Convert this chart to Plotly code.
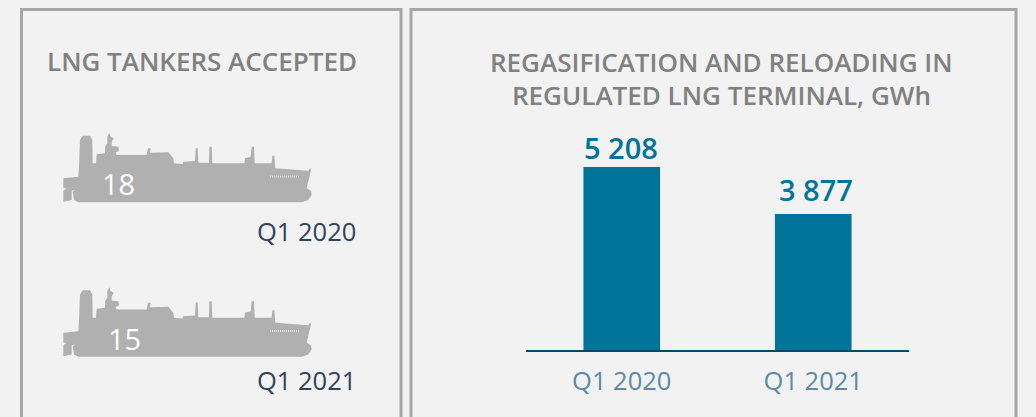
import plotly.graph_objects as go

W, H = 1036, 417
categories = ["Q1 2020", "Q1 2021"]
gwh_values = [5208, 3877]
gwh_labels = ["5 208", "3 877"]
tanker_counts = [18, 15]

BG = "#f2f2f2"
FONT = "Open Sans"

def px(x): return x / W
def py(y): return 1 - y / H

# Decorative ship silhouette, traced in 3x zoom units
SHIP = [(190,245),(190,212),(200,205),(190,205),(190,175),(235,170),(237,140),(240,60),(248,47),(270,47),
(277,60),(278,130),(288,130),(290,103),(315,100),(315,80),(322,70),(322,50),(328,38),(332,50),(342,55),
(335,65),(335,78),(355,80),(357,92),(347,98),(350,105),(440,105),(444,85),(452,85),(450,98),(505,97),
(520,115),(522,130),(548,132),(550,125),(585,123),(587,85),(593,83),(595,128),(627,128),(628,80),(635,80),
(637,130),(733,130),(735,115),(752,110),(755,80),(762,80),(764,130),(815,130),(817,107),(823,107),(826,145),
(925,152),(930,143),(933,150),(920,205),(933,212),(935,225),(925,240),(905,247),(235,247),(222,240),
(218,215),(225,210),(215,212),(215,240)]

def ship_path(dy):
    pts = [(px(x/3), py(y/3 + 120 + dy)) for x, y in SHIP]
    return "M " + " L ".join(f"{a:.5f},{b:.5f}" for a, b in pts) + " Z"

fig = go.Figure(go.Bar(
    x=categories, y=gwh_values, width=0.4, marker_color="#007398", marker_line_width=0,
    hoverinfo="skip",
))

shapes = []
for x0, x1 in [(21.5, 401), (411, 1016)]:
    shapes.append(dict(type="rect", xref="paper", yref="paper", x0=px(x0), x1=px(x1), y0=py(9.5), y1=py(H + 10),
                       line=dict(color="#a6a6a6", width=3), fillcolor="rgba(0,0,0,0)", layer="below"))
for dy in (0, 154.5):
    shapes.append(dict(type="path", xref="paper", yref="paper", path=ship_path(dy),
                       fillcolor="#b0b0b0", line=dict(width=0), layer="below"))
    shapes.append(dict(type="line", xref="paper", yref="paper", x0=px(270), x1=px(300),
                       y0=py(176.5 + dy), y1=py(176.5 + dy),
                       line=dict(color="#e2e2e2", width=2, dash="1px,1px")))

def note(x, y, text, size, color, weight=400, anchor="center"):
    return dict(xref="paper", yref="paper", x=px(x), y=py(y), text=text, showarrow=False,
                xanchor=anchor, yanchor="middle", align="center",
                font=dict(family=FONT, size=size, color=color, weight=weight))

annotations = [
    note(202, 61, "LNG TANKERS ACCEPTED", 26, "#808080", 600),
    note(721, 62, "REGASIFICATION AND RELOADING IN", 26, "#808080", 600),
    note(721, 95, "REGULATED LNG TERMINAL, GWh", 26, "#808080", 600),
    note(118.5, 184, str(tanker_counts[0]), 29, "#ffffff"),
    note(124, 338, str(tanker_counts[1]), 29, "#ffffff"),
    note(306, 231, categories[0], 25.5, "#2f4259"),
    note(306, 380, categories[1], 25.5, "#2f4259"),
]
for cat, val, lab, xs, ys in zip(categories, gwh_values, gwh_labels, (-0.5, 2.5), (20, 24.5)):
    annotations.append(dict(xref="x", yref="y", x=cat, y=val, text=lab, showarrow=False,
                            xanchor="center", yanchor="middle", xshift=xs, yshift=ys,
                            font=dict(family=FONT, size=29, color="#007398", weight=600)))

fig.update_layout(
    width=W, height=H, autosize=False, margin=dict(l=0, r=0, t=0, b=0),
    paper_bgcolor=BG, plot_bgcolor=BG, showlegend=False,
    shapes=shapes, annotations=annotations,
    bargap=0.6,
    xaxis=dict(domain=[px(526), px(909)], showgrid=False, ticks="", showline=False, zeroline=False,
               tickfont=dict(family=FONT, size=25.5, color="#5b8aa5"), ticklabelstandoff=12),
    yaxis=dict(domain=[py(351), py(120)], range=[0, 231 * 5208 / 184], visible=False, showgrid=False),
)
fig.add_shape(type="line", xref="x domain", yref="paper", x0=0, x1=1, y0=py(351), y1=py(351),
              line=dict(color="#004b63", width=2))
fig.write_html("out.html", config=dict(displayModeBar=False),
               post_script="document.body.style.margin='0';document.documentElement.style.background='#f2f2f2';document.body.style.overflow='hidden';")
